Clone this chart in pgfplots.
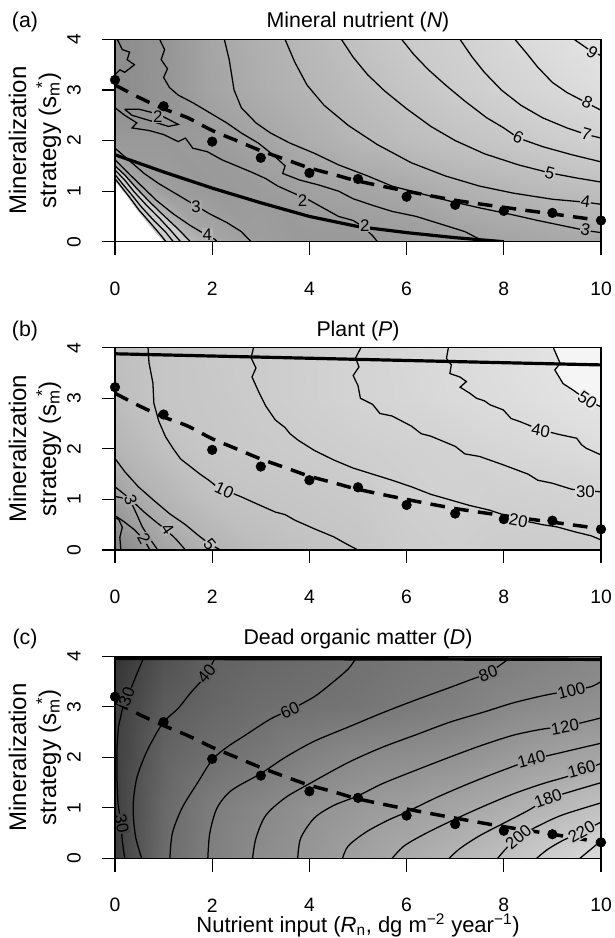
\documentclass[border=0pt]{standalone}
\usepackage{fontspec}
\setmainfont{Liberation Sans}
\usepackage{pgfplots}
\pgfplotsset{compat=1.18}
\newcommand\tickfont{\fontsize{14.5}{14.5}\selectfont}
\newcommand\titfont{\fontsize{16}{16}\selectfont}
\newcommand\labfont{\fontsize{18}{22.5}\selectfont}
\newcommand\xlabfont{\fontsize{16.5}{16.5}\selectfont}
\newcommand\clfont{\fontsize{12.6}{12.6}\selectfont}
\newcommand{\clab}[5]{\node[font=\clfont, inner sep=0.5pt, rotate=#3, fill=black!#4] at (axis cs:#1,#2) {#5};}
\pgfplotsset{
 panel/.style={
  scale only axis, width=364.5pt, height=151.7pt,
  xmin=0,xmax=10,ymin=0,ymax=4,
  xtick={0,2,4,6,8,10}, ytick={0,1,2,3,4},
  xticklabels={0,2,4,6,8,10}, yticklabels={0,1,2,3,4},
  tick align=outside, tick pos=left,
  major tick length=9.75pt,
  every tick/.style={black, line width=0.8pt},
  axis line style={black, line width=0.8pt},
  axis on top=true,
  /pgf/number format/assume math mode=true,
  tick label style={font=\tickfont},
  xticklabel style={font=\tickfont, anchor=center, yshift=-25.3pt},
  yticklabel style={font=\tickfont, anchor=center, xshift=-21pt, rotate=90},
  colormap={bw}{gray(0cm)=(0); gray(1cm)=(1)},
  point meta min=0, point meta max=1,
  ylabel={Mineralization\\strategy (s\rlap{\textsubscript{m}}\hspace{0.34em}\textsuperscript{*})},
  every axis y label/.style={font=\labfont, align=center, at={(axis description cs:-0.1646,0.5)}, anchor=center, rotate=90},
  every axis title/.style={font=\titfont, at={(axis description cs:0.5,1)}, anchor=center, yshift=12.75pt},
  every axis x label/.style={font=\xlabfont, at={(axis description cs:0.5,0)}, anchor=center, yshift=-50pt},
 },
 cl/.style={black, line width=0.95pt, mark=none},
 bg/.style={surf, shader=interp, mesh/rows=5, mesh/cols=11, point meta=explicit},
 dots/.style={only marks, mark=*, mark size=3.6pt, black},
 dsh/.style={black, line width=2.6pt, dash pattern=on 11pt off 7pt, smooth, mark=none},
 thk/.style={black, line width=2.4pt, mark=none},
}
\begin{document}
\begin{tikzpicture}
\path[use as bounding box] (0pt,0pt) rectangle (460.5pt,703.5pt);
% ---------------- (a) ----------------
\begin{axis}[panel, at={(86.25pt,522.2pt)}, anchor=south west,
  title={Mineral nutrient (\textit{N})},
  extra description/.code={\node[font=\titfont, xshift=-67.5pt, yshift=12.75pt] at (axis description cs:0,1) {(a)};}]
\addplot[bg] coordinates {
(0,0)[1.0] (1,0)[0.8] (2,0)[0.66] (3,0)[0.62] (4,0)[0.6] (5,0)[0.6] (6,0)[0.61] (7,0)[0.62] (8,0)[0.64] (9,0)[0.65] (10,0)[0.66]
(0,1)[0.72] (1,1)[0.62] (2,1)[0.6] (3,1)[0.61] (4,1)[0.63] (5,1)[0.645] (6,1)[0.66] (7,1)[0.69] (8,1)[0.71] (9,1)[0.73] (10,1)[0.745]
(0,2)[0.6] (1,2)[0.6] (2,2)[0.61] (3,2)[0.645] (4,2)[0.68] (5,2)[0.715] (6,2)[0.74] (7,2)[0.76] (8,2)[0.78] (9,2)[0.8] (10,2)[0.82]
(0,3)[0.55] (1,3)[0.58] (2,3)[0.645] (3,3)[0.68] (4,3)[0.71] (5,3)[0.74] (6,3)[0.77] (7,3)[0.8] (8,3)[0.825] (9,3)[0.845] (10,3)[0.87]
(0,4)[0.55] (1,4)[0.58] (2,4)[0.65] (3,4)[0.69] (4,4)[0.725] (5,4)[0.76] (6,4)[0.795] (7,4)[0.815] (8,4)[0.845] (9,4)[0.87] (10,4)[0.89]
};
\addplot[fill=black!20, draw=none] coordinates {(0,0)(0,1.5)(0.2,1.32)(0.45,1.05)(0.7,0.8)(1.0,0.52)(1.3,0.25)(1.55,0)};
\addplot[fill=white, draw=none] coordinates {(0,0)(0,1.18)(0.1,1.08)(0.27,0.86)(0.47,0.6)(0.68,0.35)(0.9,0.1)(1.0,0)};
% smooth contours
\addplot[cl] coordinates {(9.45,4)(9.6,3.9)(9.75,3.8)(10,3.68)};
\addplot[cl] coordinates {(8.23,4)(8.45,3.75)(8.7,3.45)(9.0,3.15)(9.3,2.95)(9.6,2.8)(10,2.6)};
\addplot[cl] coordinates {(7.1,4)(7.35,3.65)(7.6,3.35)(7.95,3.0)(8.35,2.7)(8.8,2.45)(9.3,2.25)(9.7,2.12)(10,2.05)};
\addplot[cl] coordinates {(5.9,4)(6.15,3.7)(6.45,3.4)(6.8,3.1)(7.2,2.78)(7.65,2.45)(8.0,2.25)(8.3,2.05)(8.8,1.88)(9.4,1.72)(10,1.58)};
\addplot[cl] coordinates {(4.66,4)(4.9,3.65)(5.2,3.3)(5.55,2.98)(6.0,2.63)(6.5,2.28)(7.0,2.0)(7.6,1.74)(8.3,1.52)(8.95,1.36)(9.5,1.26)(10,1.18)};
\addplot[cl] coordinates {(3.5,4)(3.7,3.55)(3.95,3.1)(4.3,2.7)(4.8,2.3)(5.4,1.92)(6.1,1.56)(6.8,1.3)(7.5,1.1)(8.2,0.96)(9.0,0.84)(9.7,0.78)(10,0.74)};
\addplot[cl] coordinates {(2.25,4)(2.35,3.6)(2.45,3.0)(2.6,2.65)(2.9,2.35)(3.2,2.15)(3.6,1.95)(4.1,1.75)(4.6,1.52)(5.2,1.3)(5.7,1.1)(6.3,0.95)(6.9,0.8)(7.5,0.67)(8.1,0.55)(8.7,0.42)(9.2,0.32)(9.7,0.22)(10,0.18)};
% jagged contours
\addplot[cl] coordinates {(0.92,4)(1.02,3.8)(0.95,3.6)(1.08,3.42)(1.0,3.25)(1.12,3.05)(1.3,2.9)(1.6,2.75)(1.95,2.55)(2.3,2.35)(2.6,2.15)(2.95,1.95)(3.25,1.72)(3.5,1.5)(3.45,1.35)(3.8,1.22)(4.2,1.12)(4.6,1.0)(4.9,0.85)(5.3,0.72)(5.7,0.6)(6.2,0.5)(6.7,0.35)(7.2,0.2)(7.6,0)};
\addplot[cl] coordinates {(0,2.65)(0.2,2.5)(0.45,2.35)(0.35,2.25)(0.7,2.2)(1.0,2.12)(1.3,1.98)(1.45,2.05)(1.6,1.85)(1.9,1.78)(2.2,1.62)(2.5,1.5)(2.8,1.38)(3.1,1.25)(3.35,1.1)(3.7,0.95)(4.0,0.82)(4.3,0.66)(4.6,0.5)(4.9,0.42)(5.1,0.3)(5.3,0.12)(5.4,0)};
\addplot[cl] coordinates {(0.05,4)(0.15,3.8)(0.3,3.75)(0.25,3.6)(0.4,3.5)(0.2,3.35)(0.1,3.4)(0,3.3)};
\addplot[cl] coordinates {(0.2,2.62)(0.5,2.62)(0.9,2.52)(1.3,2.32)(1.1,2.28)(0.7,2.4)(0.35,2.5)(0.2,2.62)};
\addplot[cl] coordinates {(0,1.85)(0.3,1.6)(0.6,1.35)(0.9,1.15)(1.25,0.95)(1.6,0.75)(1.95,0.55)(2.3,0.38)(2.6,0.2)(2.8,0)};
\addplot[cl] coordinates {(0,1.62)(0.25,1.38)(0.55,1.1)(0.85,0.82)(1.2,0.55)(1.55,0.32)(1.85,0.15)(2.05,0.05)(2.1,0)};
\addplot[cl] coordinates {(0,1.5)(0.2,1.32)(0.45,1.05)(0.7,0.8)(1.0,0.52)(1.3,0.25)(1.5,0.05)(1.55,0)};
\addplot[cl] coordinates {(0,1.42)(0.2,1.22)(0.4,0.98)(0.65,0.72)(0.9,0.48)(1.15,0.22)(1.35,0)};
\addplot[cl] coordinates {(0,1.33)(0.15,1.15)(0.35,0.92)(0.55,0.68)(0.8,0.42)(1.05,0.18)(1.2,0)};
\addplot[cl] coordinates {(0,1.25)(0.12,1.1)(0.3,0.88)(0.5,0.62)(0.72,0.38)(0.95,0.12)(1.05,0)};
% lines and dots
\addplot[thk] coordinates {(0,1.72)(1,1.38)(2,1.06)(3,0.77)(4,0.5)(5,0.3)(6,0.18)(7,0.08)(8,0.0)};
\addplot[dsh] coordinates {(0,3.1)(0.5,2.85)(1,2.63)(1.5,2.45)(2,2.2)(2.5,2.0)(3,1.8)(3.5,1.63)(4,1.46)(4.5,1.33)(5,1.2)(6,1.0)(7,0.82)(8,0.68)(9,0.55)(10,0.42)};
\addplot[dots] coordinates {(0,3.2)(1,2.68)(2,1.98)(3,1.66)(4,1.36)(5,1.24)(6,0.89)(7,0.73)(8,0.61)(9,0.57)(10,0.42)};
% labels
\clab{9.82}{3.74}{-35}{12}{9}
\clab{9.72}{2.76}{-25}{14}{8}
\clab{9.7}{2.13}{-15}{17}{7}
\clab{8.3}{2.06}{-25}{20}{6}
\clab{8.95}{1.36}{-15}{23}{5}
\clab{9.68}{0.79}{-8}{27}{4}
\clab{9.68}{0.23}{-10}{33}{3}
\clab{0.88}{2.48}{0}{40}{2}
\clab{3.86}{0.82}{0}{38}{2}
\clab{5.14}{0.32}{0}{38}{2}
\clab{1.67}{0.69}{0}{35}{3}
\clab{1.9}{0.14}{0}{30}{4}
\end{axis}
% ---------------- (b) ----------------
\begin{axis}[panel, at={(86.25pt,291pt)}, anchor=south west,
  title={Plant (\textit{P})},
  extra description/.code={\node[font=\titfont, xshift=-67.5pt, yshift=12.75pt] at (axis description cs:0,1) {(b)};}]
\addplot[bg] coordinates {
(0,0)[0.52] (1,0)[0.64] (2,0)[0.7] (3,0)[0.74] (4,0)[0.76] (5,0)[0.775] (6,0)[0.8] (7,0)[0.81] (8,0)[0.8] (9,0)[0.8] (10,0)[0.805]
(0,1)[0.62] (1,1)[0.71] (2,1)[0.755] (3,1)[0.77] (4,1)[0.78] (5,1)[0.79] (6,1)[0.81] (7,1)[0.82] (8,1)[0.815] (9,1)[0.82] (10,1)[0.825]
(0,2)[0.71] (1,2)[0.755] (2,2)[0.78] (3,2)[0.79] (4,2)[0.8] (5,2)[0.81] (6,2)[0.82] (7,2)[0.825] (8,2)[0.84] (9,2)[0.85] (10,2)[0.865]
(0,3)[0.74] (1,3)[0.775] (2,3)[0.785] (3,3)[0.8] (4,3)[0.815] (5,3)[0.83] (6,3)[0.84] (7,3)[0.855] (8,3)[0.865] (9,3)[0.88] (10,3)[0.895]
(0,4)[0.75] (1,4)[0.775] (2,4)[0.79] (3,4)[0.8] (4,4)[0.815] (5,4)[0.83] (6,4)[0.845] (7,4)[0.86] (8,4)[0.875] (9,4)[0.89] (10,4)[0.9]
};
\addplot[fill=black!4, draw=none] coordinates {(9.02,4)(9.16,3.69)(9.05,3.56)(9.22,3.29)(9.43,3.16)(9.7,2.97)(10,2.83)(10,4)};
\addplot[cl] coordinates {(9.02,4)(9.16,3.69)(9.05,3.56)(9.22,3.29)(9.43,3.16)(9.7,2.97)(10,2.83)};
\addplot[cl] coordinates {(6.86,4)(6.82,3.79)(6.92,3.66)(6.89,3.49)(7.1,3.42)(7.23,3.33)(7.1,3.22)(7.3,3.1)(7.44,3.0)(7.6,2.95)(7.72,2.87)(7.99,2.77)(8.15,2.6)(8.33,2.54)(8.74,2.38)(9.16,2.28)(9.5,2.21)(9.6,2.08)(9.7,2.01)(10,1.88)};
\addplot[cl] coordinates {(5.06,4)(4.95,3.8)(5.02,3.62)(4.9,3.45)(5.0,3.25)(5.05,3.0)(5.3,2.88)(5.45,2.7)(5.7,2.65)(6.1,2.45)(6.3,2.3)(6.5,2.25)(7.0,2.05)(7.2,1.9)(7.5,1.85)(8.0,1.68)(8.5,1.5)(8.7,1.38)(9.0,1.32)(9.4,1.2)(10,1.15)};
\addplot[cl] coordinates {(2.85,4)(2.8,3.8)(2.9,3.6)(2.82,3.42)(2.97,3.1)(3.1,2.85)(3.3,2.57)(3.5,2.42)(3.6,2.3)(3.77,2.17)(4.1,1.97)(4.5,1.78)(4.9,1.62)(5.3,1.5)(5.7,1.38)(6.1,1.25)(6.5,1.1)(6.9,0.99)(7.3,0.88)(7.7,0.79)(8.3,0.6)(8.8,0.5)(9.08,0.46)(9.5,0.35)(9.8,0.28)(10,0.2)};
\addplot[cl] coordinates {(0.68,4)(0.7,3.7)(0.78,3.3)(0.8,2.9)(0.9,2.55)(1.04,2.24)(1.2,2.0)(1.35,1.8)(1.55,1.65)(1.75,1.5)(1.93,1.38)(2.1,1.25)(2.25,1.19)(2.6,1.05)(2.9,0.92)(3.3,0.75)(3.5,0.7)(3.7,0.59)(4.1,0.42)(4.5,0.26)(4.8,0.1)(5.0,0)};
\addplot[cl] coordinates {(0,1.81)(0.2,1.55)(0.48,1.25)(0.8,0.98)(1.12,0.72)(1.45,0.5)(1.7,0.3)(1.93,0.13)(2.17,0)};
\addplot[cl] coordinates {(0,1.25)(0.3,1.02)(0.6,0.75)(0.85,0.55)(1.05,0.4)(1.25,0.22)(1.45,0)};
\addplot[cl] coordinates {(0,1.06)(0.15,1.03)(0.32,0.97)(0.45,0.7)(0.56,0.46)(0.72,0.22)(0.88,0)};
\addplot[cl] coordinates {(0,0.68)(0.2,0.55)(0.4,0.4)(0.6,0.2)(0.72,0)};
\addplot[cl] coordinates {(0.12,0)(0.1,0.25)(0.15,0.45)(0.08,0.6)(0,0.65)};
\addplot[thk] coordinates {(0,3.88)(10,3.66)};
\addplot[dsh] coordinates {(0,3.1)(0.5,2.85)(1,2.63)(1.5,2.45)(2,2.2)(2.5,2.0)(3,1.8)(3.5,1.63)(4,1.46)(4.5,1.33)(5,1.2)(6,1.0)(7,0.82)(8,0.68)(9,0.55)(10,0.42)};
\addplot[dots] coordinates {(0,3.22)(1,2.68)(2,1.98)(3,1.65)(4,1.38)(5,1.24)(6,0.89)(7,0.72)(8,0.61)(9,0.58)(10,0.41)};
\clab{9.72}{2.97}{-35}{8}{50}
\clab{8.76}{2.36}{-10}{13}{40}
\clab{9.68}{1.15}{0}{15}{30}
\clab{8.3}{0.58}{-10}{18}{20}
\clab{2.25}{1.19}{-25}{22}{10}
\clab{1.95}{0.12}{-50}{25}{5}
\clab{1.08}{0.42}{-55}{30}{4}
\clab{0.32}{0.99}{-70}{35}{3}
\clab{0.6}{0.22}{-60}{40}{2}
\end{axis}
% ---------------- (c) ----------------
\begin{axis}[panel, at={(86.25pt,59.6pt)}, anchor=south west,
  title={Dead organic matter (\textit{D})},
  xlabel={Nutrient input (\textit{R}\textsubscript{n}, dg m\textsuperscript{−2} year\textsuperscript{−1})},
  extra description/.code={\node[font=\titfont, xshift=-67.5pt, yshift=12.75pt] at (axis description cs:0,1) {(c)};}]
\addplot[bg] coordinates {
(0,0)[0.24] (1,0)[0.42] (2,0)[0.5] (3,0)[0.55] (4,0)[0.59] (5,0)[0.63] (6,0)[0.67] (7,0)[0.71] (8,0)[0.755] (9,0)[0.81] (10,0)[0.86]
(0,1)[0.25] (1,1)[0.41] (2,1)[0.49] (3,1)[0.53] (4,1)[0.57] (5,1)[0.6] (6,1)[0.62] (7,1)[0.645] (8,1)[0.68] (9,1)[0.715] (10,1)[0.76]
(0,2)[0.25] (1,2)[0.39] (2,2)[0.44] (3,2)[0.47] (4,2)[0.51] (5,2)[0.54] (6,2)[0.555] (7,2)[0.57] (8,2)[0.6] (9,2)[0.63] (10,2)[0.65]
(0,3)[0.24] (1,3)[0.36] (2,3)[0.4] (3,3)[0.43] (4,3)[0.445] (5,3)[0.46] (6,3)[0.48] (7,3)[0.5] (8,3)[0.53] (9,3)[0.55] (10,3)[0.565]
(0,4)[0.2] (1,4)[0.32] (2,4)[0.38] (3,4)[0.4] (4,4)[0.42] (5,4)[0.44] (6,4)[0.46] (7,4)[0.475] (8,4)[0.49] (9,4)[0.51] (10,4)[0.53]
};
\addplot[cl] coordinates {(0.58,3.95)(0.45,3.65)(0.3,3.3)(0.15,2.95)(0.07,2.6)(0.04,2.2)(0.04,1.6)(0.06,1.1)(0.12,0.7)(0.15,0.35)(0.2,0)};
\addplot[cl, smooth] coordinates {(0.55,0)(0.43,0.4)(0.38,0.8)(0.38,1.16)(0.45,1.6)(0.6,2.0)(0.75,2.3)(1.0,2.7)(1.3,2.97)(1.55,3.27)(1.85,3.6)(2.05,3.95)};
\addplot[cl, smooth] coordinates {(1.13,0)(1.18,0.5)(1.38,1.0)(1.7,1.5)(2.0,1.95)(2.3,2.2)(2.65,2.42)(3.2,2.76)(3.6,2.94)(4.1,3.2)(4.5,3.5)(4.8,3.75)(4.95,3.95)};
\addplot[cl, smooth] coordinates {(1.91,0)(1.95,0.5)(2.1,1.0)(2.4,1.35)(3.0,1.68)(3.5,2.0)(4.1,2.32)(4.8,2.6)(5.5,2.88)(6.2,3.14)(6.8,3.35)(7.3,3.53)(7.7,3.68)(8.1,3.95)};
\addplot[cl, smooth] coordinates {(2.83,0)(2.9,0.4)(3.1,0.85)(3.5,1.2)(4.0,1.48)(4.8,1.9)(5.5,2.2)(6.2,2.45)(6.9,2.7)(7.6,2.9)(8.2,3.08)(8.9,3.24)(9.4,3.32)(9.8,3.4)(10,3.5)};
\addplot[cl, smooth] coordinates {(3.76,0)(3.82,0.4)(4.1,0.8)(4.5,1.05)(5.0,1.24)(5.5,1.48)(6.2,1.75)(6.9,2.01)(7.55,2.24)(8.2,2.44)(8.8,2.56)(9.3,2.62)(10,2.78)};
\addplot[cl, smooth] coordinates {(4.68,0)(4.8,0.25)(5.16,0.52)(5.6,0.75)(6.0,0.92)(6.6,1.2)(7.2,1.45)(7.8,1.68)(8.57,1.95)(9.2,2.1)(10,2.28)};
\addplot[cl, smooth] coordinates {(5.7,0)(5.95,0.25)(6.4,0.5)(7.0,0.78)(7.6,1.04)(8.2,1.28)(8.8,1.48)(9.3,1.62)(9.65,1.75)(10,1.88)};
\addplot[cl, smooth] coordinates {(6.87,0)(7.1,0.2)(7.5,0.45)(8.0,0.7)(8.5,0.95)(8.91,1.18)(9.4,1.33)(10,1.5)};
\addplot[cl, smooth] coordinates {(7.87,0)(8.05,0.2)(8.3,0.43)(8.7,0.64)(9.2,0.86)(10,1.1)};
\addplot[cl, smooth] coordinates {(8.67,0)(8.9,0.18)(9.2,0.35)(9.6,0.53)(10,0.72)};
\addplot[cl, smooth] coordinates {(9.56,0)(9.75,0.15)(10,0.35)};
\addplot[black, line width=2.6pt, mark=none] coordinates {(0,3.96)(10,3.94)};
\addplot[dsh] coordinates {(0,3.1)(0.5,2.85)(1,2.63)(1.5,2.43)(2,2.2)(2.5,2.0)(3,1.8)(3.5,1.62)(4,1.45)(4.5,1.32)(5,1.18)(6,0.98)(7,0.8)(8,0.63)(9,0.48)(10,0.32)};
\addplot[dots] coordinates {(0,3.2)(1,2.7)(2,1.97)(3,1.64)(4,1.33)(5,1.2)(6,0.85)(7,0.68)(8,0.55)(9,0.48)(10,0.32)};
\clab{0.24}{3.2}{70}{73}{30}
\clab{0.14}{0.69}{-80}{74}{30}
\clab{1.88}{3.66}{50}{63}{40}
\clab{3.6}{2.94}{25}{57}{60}
\clab{7.68}{3.66}{20}{52}{80}
\clab{9.39}{3.32}{15}{46}{100}
\clab{9.26}{2.6}{10}{42}{120}
\clab{8.57}{1.96}{15}{39}{140}
\clab{9.6}{1.77}{15}{36}{160}
\clab{8.91}{1.19}{20}{31}{180}
\clab{8.3}{0.43}{40}{26}{200}
\clab{9.6}{0.53}{30}{22}{220}
\end{axis}
\end{tikzpicture}
\end{document}
